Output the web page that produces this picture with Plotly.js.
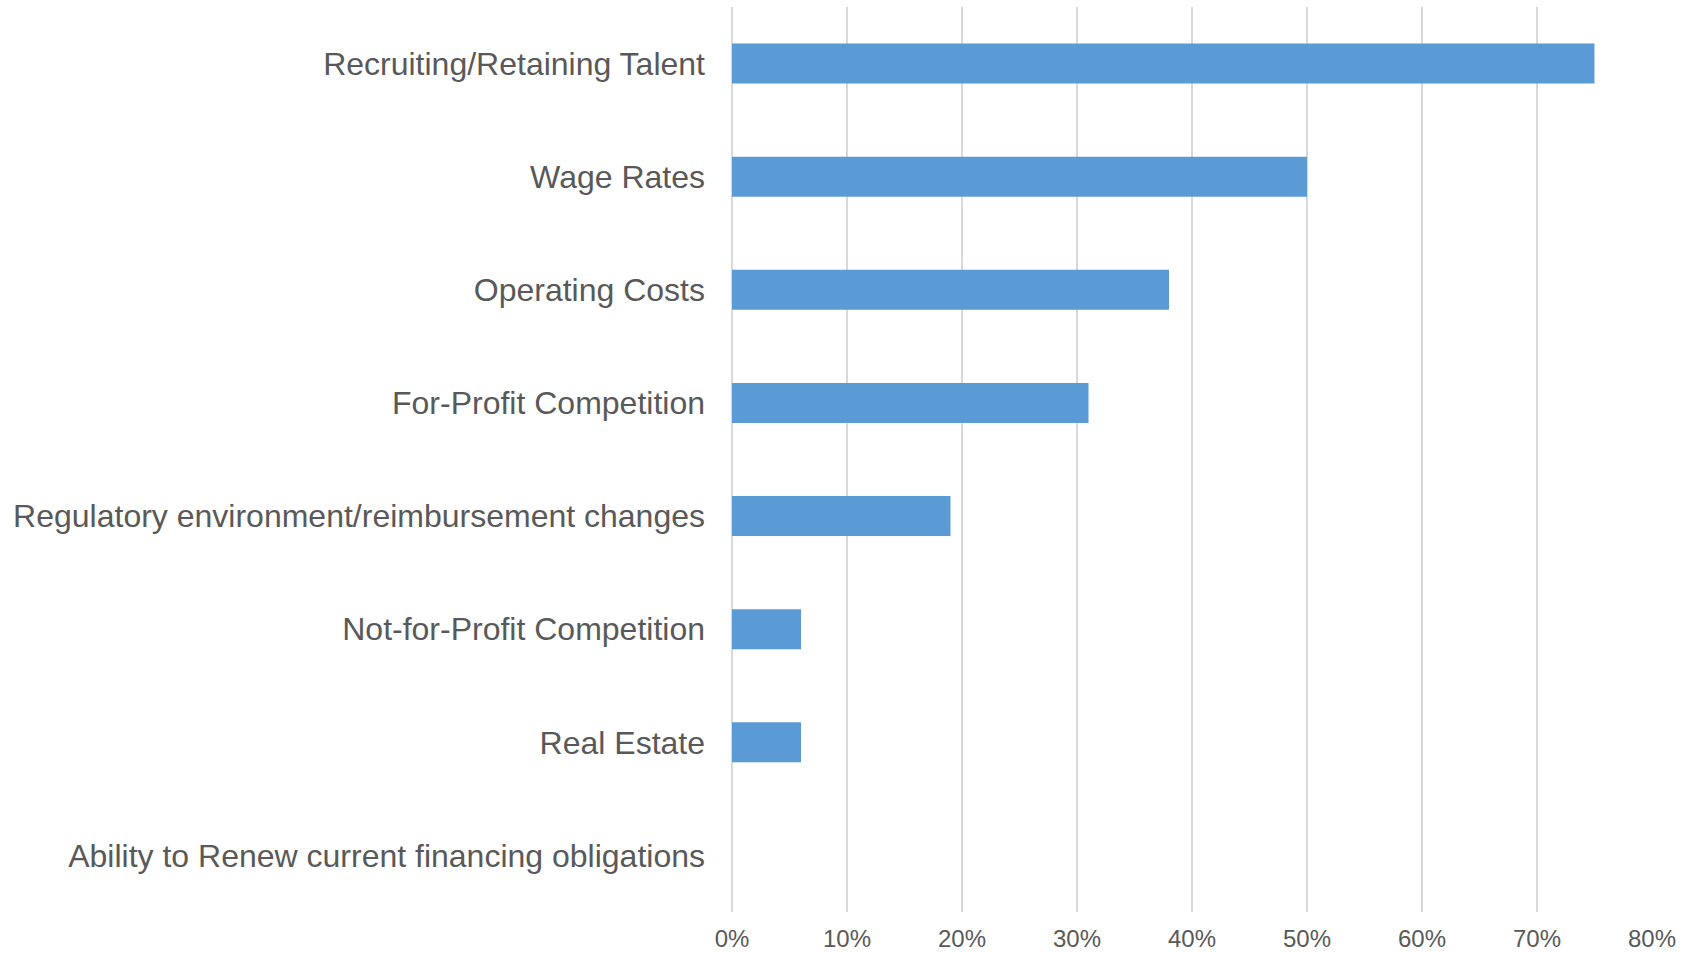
<!DOCTYPE html>
<html>
<head>
<meta charset="utf-8">
<script src="https://cdn.plot.ly/plotly-3.0.1.min.js"></script>
<style>
  html, body { margin: 0; padding: 0; background: #ffffff; }
  #chart { width: 1696px; height: 953px; }
</style>
</head>
<body>
<div id="chart"></div>
<script>
// Categories, top to bottom as shown
const categories = [
  "Recruiting/Retaining Talent",
  "Wage Rates",
  "Operating Costs",
  "For-Profit Competition",
  "Regulatory environment/reimbursement changes",
  "Not-for-Profit Competition",
  "Real Estate",
  "Ability to Renew current financing obligations"
];
// Share of respondents (fraction)
const values = [0.75, 0.50, 0.38, 0.31, 0.19, 0.06, 0.06, 0.00];
// X tick values and labels
const tickValues = [0, 0.1, 0.2, 0.3, 0.4, 0.5, 0.6, 0.7, 0.8];
const tickLabels = ["0%", "10%", "20%", "30%", "40%", "50%", "60%", "70%", "80%"];

const trace = {
  type: "bar",
  orientation: "h",
  x: values,
  y: categories,
  marker: { color: "#5B9BD5", line: { width: 0 } },
  hoverinfo: "x+y"
};

const layout = {
  width: 1696,
  height: 953,
  paper_bgcolor: "#ffffff",
  plot_bgcolor: "#ffffff",
  margin: { l: 732, r: 44, t: 7, b: 41, pad: 0 },
  bargap: 0.646,
  showlegend: false,
  font: { family: "Liberation Sans, Arial, sans-serif", color: "#595959" },
  xaxis: {
    range: [0, 0.8],
    tickvals: tickValues,
    ticktext: tickLabels,
    showgrid: true,
    gridcolor: "#D9D9D9",
    gridwidth: 1.3,
    zeroline: true,
    zerolinecolor: "#D9D9D9",
    zerolinewidth: 1.3,
    showline: false,
    ticks: "",
    ticklabelstandoff: 10,
    tickfont: { size: 24, color: "#595959" },
    automargin: false,
    fixedrange: true
  },
  yaxis: {
    type: "category",
    autorange: "reversed",
    showgrid: false,
    zeroline: false,
    showline: false,
    ticks: "",
    ticklabelstandoff: 26,
    tickfont: { size: 32, color: "#595959" },
    automargin: false,
    fixedrange: true
  }
};

Plotly.newPlot("chart", [trace], layout, { displayModeBar: false, staticPlot: true });
</script>
</body>
</html>
